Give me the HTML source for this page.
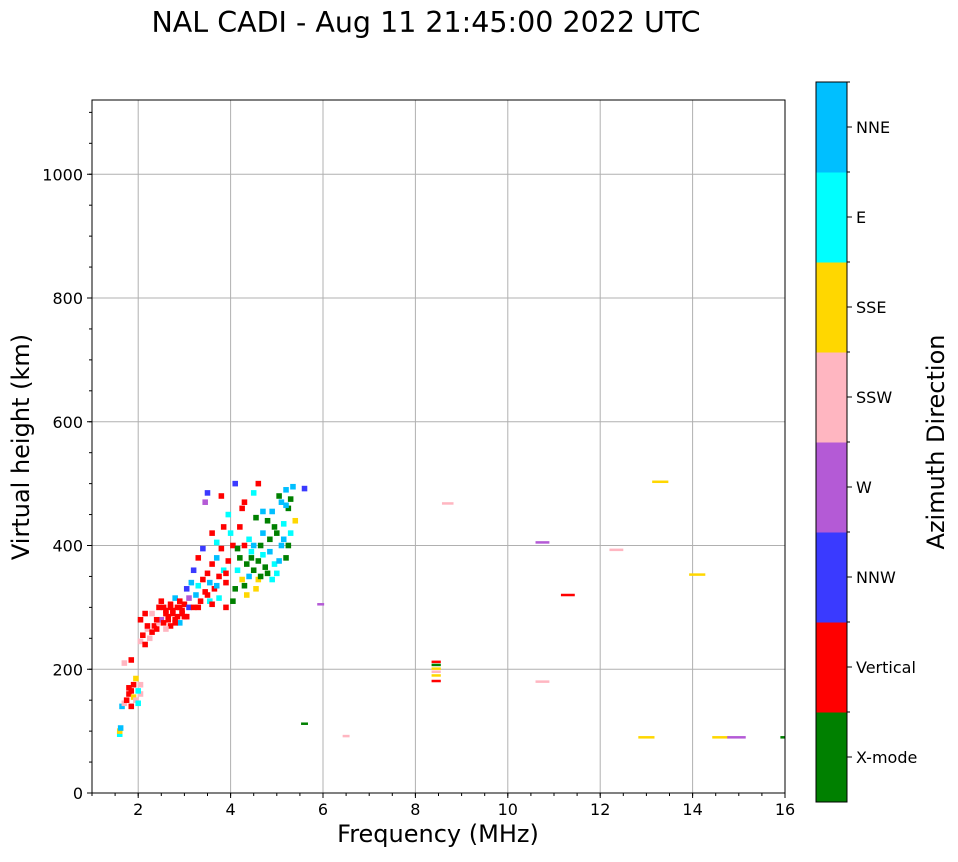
<!DOCTYPE html>
<html><head><meta charset="utf-8">
<style>
body{margin:0;background:#fff;}
svg text{font-family:"DejaVu Sans","Liberation Sans",sans-serif;}
</style></head>
<body>
<svg id="chart" width="958" height="857" xmlns="http://www.w3.org/2000/svg">
<text x="426" y="32" font-size="28.5" text-anchor="middle">NAL CADI - Aug 11 21:45:00 2022 UTC</text>
<g id="grid"></g>
<g id="marks"></g>
<rect x="92" y="100" width="693" height="693" fill="none" stroke="#000" stroke-width="1"/>
<g id="axes"></g>
<text x="438" y="842" font-size="24" text-anchor="middle">Frequency (MHz)</text>
<text transform="translate(29,447) rotate(-90)" font-size="24" text-anchor="middle">Virtual height (km)</text>
<g id="cbar"></g>
<text transform="translate(944,442) rotate(-90)" font-size="24" text-anchor="middle">Azimuth Direction</text>
</svg>
<script>
const dirLabels=["X-mode","Vertical","NNW","W","SSW","SSE","E","NNE"];
const dirColors=["#008000","#ff0000","#3a3aff","#b45ad6","#ffb6c1","#ffd700","#00ffff","#00bfff"];
const xTicks=[2,4,6,8,10,12,14,16];
const yTicks=[0,200,400,600,800,1000];
const clusterFreq=[
1.6,1.6,1.62,1.65,1.7,1.75,1.8,1.8,1.85,1.9,
1.85,1.9,1.95,2.0,2.05,2.05,1.85,1.7,1.95,2.0,
2.05,2.1,2.15,2.2,2.25,2.3,2.35,2.4,2.45,2.5,
2.45,2.5,2.6,2.65,2.7,2.75,2.8,2.85,2.9,2.95,
2.05,2.15,2.3,2.55,2.7,2.8,2.9,2.6,2.2,2.4,
2.55,2.65,2.75,2.85,2.95,2.6,2.7,2.8,2.9,3.0,
3.0,3.05,3.1,3.1,3.2,3.25,3.3,3.35,3.4,3.45,
3.5,3.55,3.6,3.65,3.7,3.75,3.8,3.85,3.9,3.95,
3.3,3.4,3.6,3.7,3.85,3.95,3.8,3.5,3.45,3.2,
3.15,3.05,3.55,3.6,3.75,3.9,3.3,3.5,3.7,3.9,
4.05,4.1,4.15,4.2,4.25,4.3,4.35,4.4,4.45,4.5,
4.55,4.6,4.65,4.7,4.75,4.8,4.85,4.9,4.95,5.0,
5.05,5.1,5.15,5.2,5.25,5.3,5.35,5.4,5.6,4.1,
4.2,4.3,4.5,4.6,4.7,4.4,4.05,4.0,4.15,4.35,
4.9,5.0,5.2,5.25,4.8,4.6,4.25,4.55,5.1,5.3,
4.95,5.15,4.45,4.65,4.85,5.05,4.3,4.5,4.7,5.2];
const clusterHeight=[
95,100,105,140,145,150,160,170,165,175,
140,155,150,145,160,175,215,210,185,165,
245,255,240,265,250,260,270,265,275,280,
300,310,290,285,270,295,280,300,275,290,
280,290,290,300,305,315,310,265,270,280,
275,280,290,285,295,295,300,275,300,285,
305,285,300,315,300,320,335,310,345,325,
355,340,370,330,380,350,395,360,340,375,
380,395,420,405,430,450,480,485,470,360,
340,330,310,305,315,300,300,320,335,355,
310,330,360,380,345,400,370,350,390,360,
330,375,400,420,365,440,390,455,370,420,
480,400,435,490,460,420,495,440,492,500,
430,470,485,500,455,410,400,420,395,320,
345,355,380,400,355,345,460,445,470,475,
430,410,380,350,410,375,335,400,385,465];
const clusterDir=[
6,5,7,7,4,1,1,1,1,1,
1,5,4,6,4,4,1,4,5,6,
4,1,1,4,4,1,1,1,4,3,
1,1,1,1,1,1,1,1,7,1,
1,1,4,1,1,7,1,4,1,1,
1,1,1,1,1,1,1,1,1,1,
1,1,2,3,1,7,6,1,1,1,
1,7,1,1,7,1,1,6,1,1,
1,2,1,6,1,6,1,2,3,2,
7,2,6,1,6,1,1,1,7,1,
0,0,6,0,5,1,0,7,6,0,
5,0,0,7,0,0,7,7,6,0,
0,7,6,7,0,6,7,5,2,2,
1,1,6,1,7,6,1,6,0,5,
6,6,0,0,0,5,1,0,7,0,
0,7,0,0,0,7,0,7,6,7];
const isoFreq=[5.6,6.5,5.95,8.45,8.45,8.45,8.45,8.45,8.45,8.7,
10.75,10.75,11.3,12.35,13.3,13.0,14.1,14.6,14.95,15.95];
const isoHeight=[112,92,305,181,190,196,201,207,212,468,
405,180,320,393,503,90,353,90,90,90];
const isoDir=[0,4,3,1,5,4,5,0,1,4,
3,4,1,4,5,5,5,5,3,0];
const isoWidth=[0.15,0.15,0.15,0.2,0.2,0.2,0.2,0.2,0.2,0.25,
0.3,0.3,0.3,0.3,0.35,0.35,0.35,0.35,0.4,0.1];

const NS="http://www.w3.org/2000/svg";
const L=92,T=100,W=693,H=693;
const xs=f=>L+(f-1)/15*W;
const ys=h=>T+H-h/1120*H;
function mk(tag,attrs,parent){const e=document.createElementNS(NS,tag);for(const k in attrs)e.setAttribute(k,attrs[k]);parent.appendChild(e);return e;}
const grid=document.getElementById('grid'),axes=document.getElementById('axes'),marks=document.getElementById('marks'),cbar=document.getElementById('cbar');
xTicks.forEach(t=>{
  const x=xs(t);
  const g=mk('line',{x1:x,x2:x,y1:T,y2:T+H,stroke:'#b0b0b0','stroke-width':1},grid);
  
  
  mk('line',{x1:x,x2:x,y1:T+H,y2:T+H+5,stroke:'#000'},axes);
  const tx=mk('text',{x:x,y:T+H+22,'font-size':16,'text-anchor':'middle'},axes);
  tx.textContent=t;
  
  
});
for(let m=1;m<=16;m+=0.5){mk('line',{x1:xs(m),x2:xs(m),y1:T+H,y2:T+H+3,stroke:'#000'},axes);}
yTicks.forEach(t=>{
  const y=ys(t);
  const g=mk('line',{x1:L,x2:L+W,y1:y,y2:y,stroke:'#b0b0b0','stroke-width':1},grid);
  
  
  mk('line',{x1:L-5,x2:L,y1:y,y2:y,stroke:'#000'},axes);
  const tx=mk('text',{x:L-9,y:y+6,'font-size':16,'text-anchor':'end'},axes);
  tx.textContent=t;
  
  
});
for(let m=0;m<=1100;m+=50){mk('line',{x1:L-3,x2:L,y1:ys(m),y2:ys(m),stroke:'#000'},axes);}
function drawMark(f,h,d,w,th){
  const x0=Math.max(xs(f-w/2),L),x1=Math.min(xs(f+w/2),L+W);
  const y0=ys(h+th/2),y1=ys(h-th/2);
  const r=mk('rect',{x:x0,y:y0,width:x1-x0,height:Math.max(y1-y0,2.5),fill:dirColors[d]},marks);
  
  
}
for(let i=0;i<clusterFreq.length;i++) drawMark(clusterFreq[i],clusterHeight[i],clusterDir[i],0.12,9);
for(let i=0;i<isoFreq.length;i++) drawMark(isoFreq[i],isoHeight[i],isoDir[i],isoWidth[i],4);
const cx=816,cw=31,cy=82,ch=720,seg=ch/8;
dirLabels.forEach((lab,i)=>{
  const y=cy+ch-(i+1)*seg;
  const r=mk('rect',{x:cx,y:y,width:cw,height:seg+0.5,fill:dirColors[i]},cbar);
  
  
  mk('line',{x1:cx+cw,x2:cx+cw+5,y1:y+seg/2,y2:y+seg/2,stroke:'#000'},cbar);
  mk('line',{x1:cx+cw,x2:cx+cw+3,y1:y,y2:y,stroke:'#000'},cbar);
  const t=mk('text',{x:cx+cw+9,y:y+seg/2+6,'font-size':16},cbar);
  t.textContent=lab;
  
  
});
mk('rect',{x:cx,y:cy,width:cw,height:ch,fill:'none',stroke:'#000'},cbar);
</script>
</body></html>
